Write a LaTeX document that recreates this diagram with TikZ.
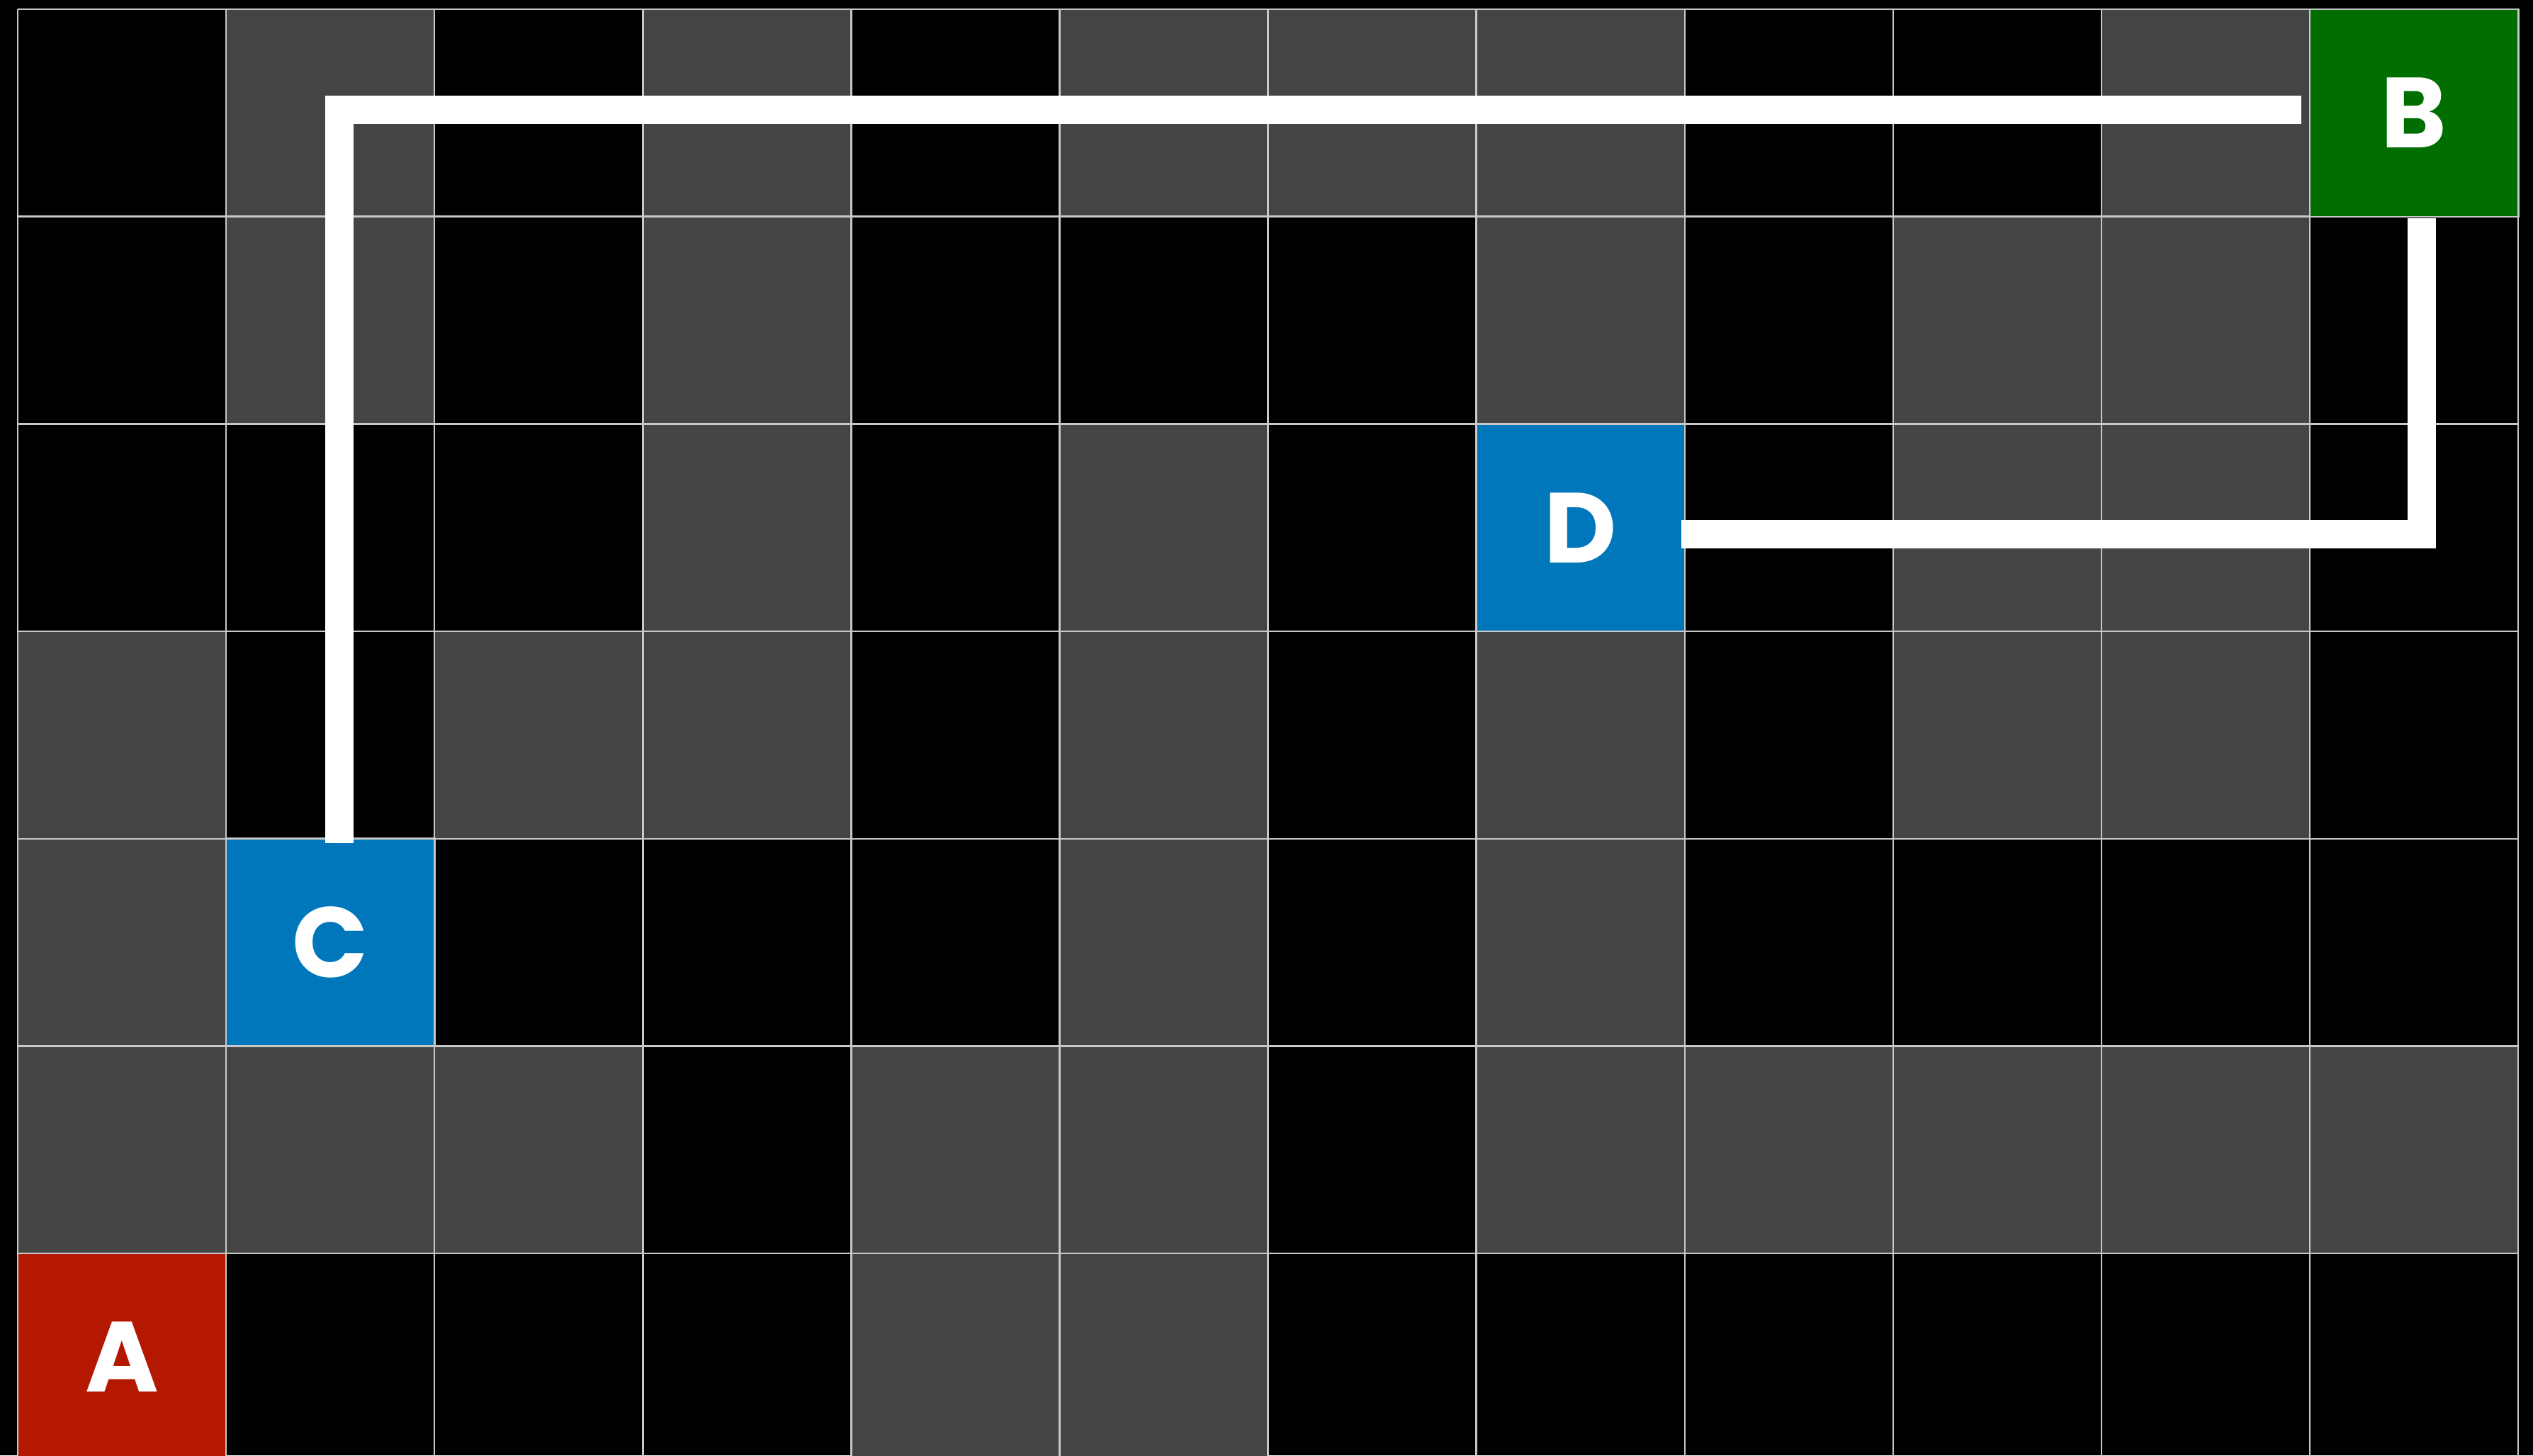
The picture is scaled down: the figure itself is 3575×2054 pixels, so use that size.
\documentclass[tikz,border=0pt]{standalone}
\usepackage{fontspec}
\newfontfamily\lblfont{Poppins}
\definecolor{gridline}{HTML}{C8C8C8}
\definecolor{cellgray}{HTML}{444444}
\definecolor{cellred}{HTML}{B41800}
\definecolor{cellgreen}{HTML}{006E00}
\definecolor{cellblue}{HTML}{0077BB}
\begin{document}
\begin{tikzpicture}[x=0.01cm,y=-0.01cm,
  cellbox/.style={rectangle, minimum width=2.941cm, minimum height=2.927cm, inner sep=0pt, outer sep=0pt,
     draw=gridline, line width=0.025cm, text=white, font=\lblfont\bfseries\fontsize{40}{48}\selectfont},
  route/.style={draw=white, line width=0.4cm, line join=miter, line cap=butt}]
\useasboundingbox (0,0) rectangle (3575,2054);
\fill[black] (0,0) rectangle (3575,2054);
\begin{scope}
\clip (0,0) rectangle (3575,2054);
% gray cells
\foreach \i/\j in {1/0,3/0,5/0,6/0,7/0,10/0,
                   1/1,3/1,7/1,9/1,10/1,
                   3/2,5/2,9/2,10/2,
                   0/3,2/3,3/3,5/3,7/3,9/3,10/3,
                   0/4,5/4,7/4,
                   0/5,1/5,2/5,4/5,5/5,7/5,8/5,9/5,10/5,11/5,
                   4/6,5/6}
  \fill[cellgray] ({25+294.1*\i},{13+292.7*\j}) rectangle ++(294.1,292.7);
% grid lines
\foreach \i in {0,...,12}
  \draw[gridline, line width=0.025cm] ({25+294.1*\i},13) -- ({25+294.1*\i},2100);
\foreach \j in {0,...,7}
  \draw[gridline, line width=0.025cm] (25,{13+292.7*\j}) -- (3554,{13+292.7*\j});
\node[cellbox, fill=cellred]   (A) at ({25+294.1*0.5},{13+292.7*6.5}) {A};
\end{scope}
\node[cellbox, fill=cellgreen] (B) at ({25+294.1*11.5},{13+292.7*0.5}) {B};
\node[cellbox, fill=cellblue]  (C) at ({25+294.1*1.5},{13+292.7*4.5}) {C};
\node[cellbox, fill=cellblue]  (D) at ({25+294.1*7.5},{13+292.7*2.5}) {D};
% routes
\draw[route] ([xshift=0.13cm,yshift=-0.06cm]C.north) |- ([xshift=-0.12cm,yshift=0.045cm]B.west);
\draw[route] ([xshift=0.11cm,yshift=-0.02cm]B.south) |- ([xshift=-0.05cm,yshift=-0.095cm]D.east);
\end{tikzpicture}
\end{document}
